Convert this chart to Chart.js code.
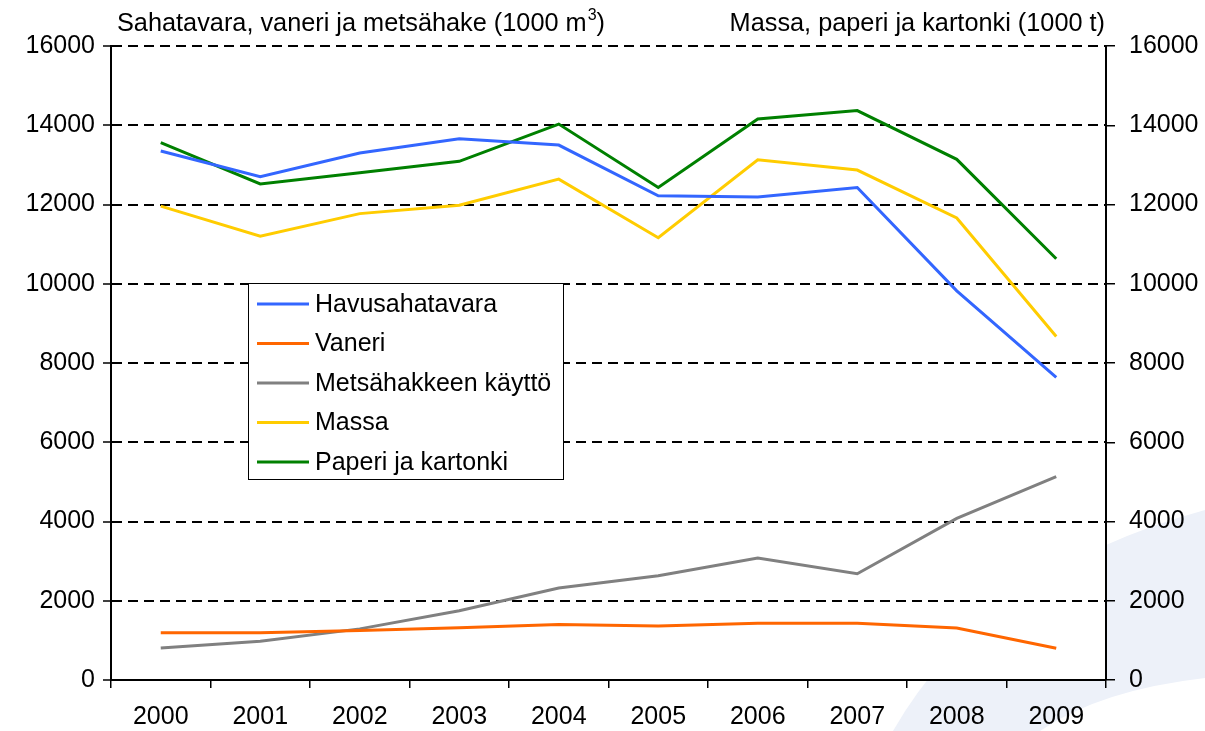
<!DOCTYPE html>
<html>
<head>
<meta charset="utf-8">
<script src="https://cdn.jsdelivr.net/npm/chart.js@4.4.1/dist/chart.umd.min.js"></script>
<style>
  html, body { margin: 0; padding: 0; background: #fff; }
  #wrap { width: 1205px; height: 731px; position: relative; }
</style>
</head>
<body>
<div id="wrap"><canvas id="chart" width="1205" height="731"></canvas></div>
<script>
// years on the x axis
const years = ["2000", "2001", "2002", "2003", "2004", "2005", "2006", "2007", "2008", "2009"];

// left axis series (1000 m3)
const havusahatavara = [13350, 12700, 13300, 13660, 13500, 12220, 12190, 12430, 9820, 7640];
const vaneri = [1190, 1190, 1250, 1320, 1400, 1360, 1430, 1430, 1310, 800];
const metsahake = [810, 980, 1290, 1750, 2320, 2630, 3080, 2680, 4080, 5130];

// right axis series (1000 t)
const massa = [11960, 11200, 11770, 11980, 12640, 11160, 13130, 12870, 11660, 8670];
const paperi = [13560, 12520, 12800, 13090, 14030, 12430, 14160, 14370, 13140, 10630];

const seriesNames = ["Havusahatavara", "Vaneri", "Metsähakkeen käyttö", "Massa", "Paperi ja kartonki"];
const leftTitle = "Sahatavara, vaneri ja metsähake (1000 m";
const rightTitle = "Massa, paperi ja kartonki (1000 t)";

const FONT = "'Liberation Sans', Arial, sans-serif";

// pale swoosh in the corner + white plot area
const backdrop = {
  id: "backdrop",
  beforeDraw(chart) {
    const ctx = chart.ctx;
    const a = chart.chartArea;
    ctx.save();
    ctx.fillStyle = "#fff";
    ctx.fillRect(0, 0, chart.width, chart.height);
    ctx.fillStyle = "#edf1f9";
    ctx.beginPath();
    ctx.moveTo(893, 731);
    ctx.quadraticCurveTo(985, 570, 1205, 510);
    ctx.lineTo(1205, 678);
    ctx.quadraticCurveTo(1100, 690, 1040, 731);
    ctx.closePath();
    ctx.fill();
    ctx.fillStyle = "#fff";
    ctx.fillRect(a.left, a.top, a.right - a.left, a.bottom - a.top);
    ctx.restore();
  }
};

// axis titles over the plot
const titles = {
  id: "titles",
  afterDraw(chart) {
    const ctx = chart.ctx;
    const a = chart.chartArea;
    ctx.save();
    ctx.fillStyle = "#000";
    ctx.textBaseline = "alphabetic";
    ctx.font = "25.3px " + FONT;
    ctx.textAlign = "left";
    let x = a.left + 6;
    ctx.fillText(leftTitle, x, 31);
    x += ctx.measureText(leftTitle).width;
    ctx.font = "16px " + FONT;
    ctx.fillText("3", x + 1, 20);
    x += ctx.measureText("3").width + 1;
    ctx.font = "25.3px " + FONT;
    ctx.fillText(")", x, 31);
    ctx.textAlign = "right";
    ctx.fillText(rightTitle, a.right - 1, 31);
    ctx.restore();
  }
};

// boxed legend inside the plot
const boxLegend = {
  id: "boxLegend",
  afterDraw(chart) {
    const ctx = chart.ctx;
    const a = chart.chartArea;
    const bx = a.left + 137, by = a.top + 237, bw = 315, bh = 196;
    ctx.save();
    ctx.fillStyle = "#fff";
    ctx.fillRect(bx, by, bw, bh);
    ctx.strokeStyle = "#000";
    ctx.lineWidth = 1;
    ctx.strokeRect(bx + 0.5, by + 0.5, bw, bh);
    ctx.font = "25px " + FONT;
    ctx.textBaseline = "middle";
    ctx.textAlign = "left";
    chart.data.datasets.forEach((ds, i) => {
      const y = by + 21 + i * 39.5;
      ctx.strokeStyle = ds.borderColor;
      ctx.lineWidth = 3;
      ctx.beginPath();
      ctx.moveTo(bx + 9, y);
      ctx.lineTo(bx + 61, y);
      ctx.stroke();
      ctx.fillStyle = "#000";
      ctx.fillText(ds.label, bx + 67, y + 1);
    });
    ctx.restore();
  }
};

function lineSet(label, data, color, axis) {
  return {
    label: label,
    data: data,
    borderColor: color,
    backgroundColor: color,
    borderWidth: 3,
    pointRadius: 0,
    pointHoverRadius: 0,
    tension: 0,
    fill: false,
    yAxisID: axis
  };
}

const plainNumber = v => String(v);

new Chart(document.getElementById("chart"), {
  type: "line",
  data: {
    labels: years,
    datasets: [
      lineSet(seriesNames[0], havusahatavara, "#3366ff", "y"),
      lineSet(seriesNames[1], vaneri, "#ff6600", "y"),
      lineSet(seriesNames[2], metsahake, "#808080", "y"),
      lineSet(seriesNames[3], massa, "#ffcc00", "y2"),
      lineSet(seriesNames[4], paperi, "#008000", "y2")
    ]
  },
  options: {
    responsive: false,
    devicePixelRatio: 1,
    animation: false,
    events: [],
    layout: { padding: { top: 46, left: 0, right: 0, bottom: 0 } },
    plugins: {
      legend: { display: false },
      tooltip: { enabled: false }
    },
    scales: {
      x: {
        offset: true,
        grid: { offset: true, drawOnChartArea: false, tickLength: 8, color: "#000", lineWidth: 1.5 },
        border: { color: "#000", width: 2 },
        ticks: { color: "#000", font: { family: FONT, size: 25 }, padding: 14, maxRotation: 0, autoSkip: false },
        afterFit(s) { s.height = 51; }
      },
      y: {
        position: "left",
        min: 0,
        max: 16000,
        grid: { color: "#000", lineWidth: 2, tickLength: 8, tickWidth: 1.5, tickBorderDash: [] },
        border: { color: "#000", width: 2, dash: [10, 6] },
        ticks: { stepSize: 2000, color: "#000", font: { family: FONT, size: 25 }, padding: 8, callback: plainNumber },
        afterFit(s) { s.width = 111; }
      },
      y2: {
        position: "right",
        min: 0,
        max: 16000,
        grid: { drawOnChartArea: false, color: "#000", lineWidth: 1.5, tickLength: 9 },
        border: { color: "#000", width: 2 },
        ticks: { stepSize: 2000, color: "#000", font: { family: FONT, size: 25 }, padding: 14, callback: plainNumber },
        afterFit(s) { s.width = 99; }
      }
    }
  },
  plugins: [backdrop, titles, boxLegend]
});
</script>
</body>
</html>
